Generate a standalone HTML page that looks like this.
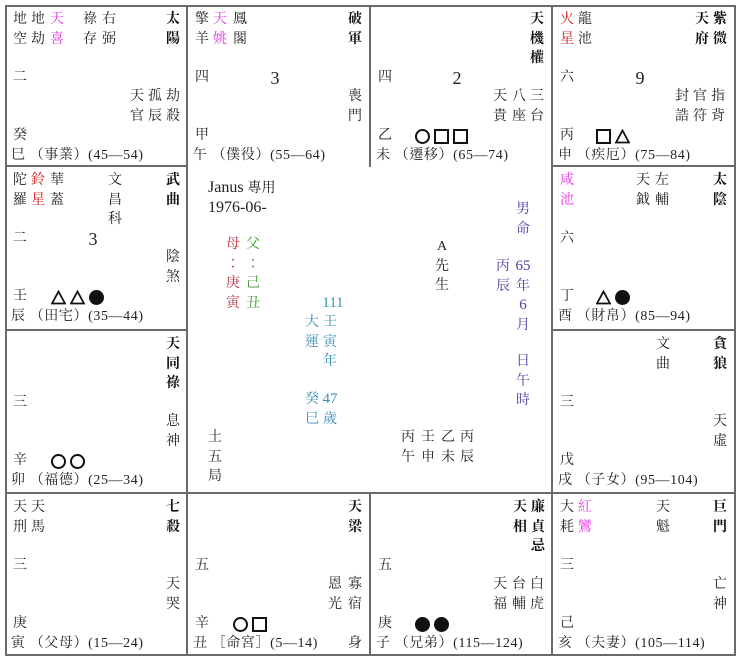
<!DOCTYPE html>
<html><head><meta charset="utf-8"><style>
body{margin:0;background:#fff;}
#w{position:relative;width:740px;height:661px;overflow:hidden;font-family:"Liberation Serif","Noto Serif CJK TC","Noto Serif CJK SC",serif;color:#222;}
.ln{position:absolute;background:#6a6a6a;}
.c{position:absolute;width:182px;height:163px;}
.v{position:absolute;width:20px;margin-left:-10px;text-align:center;font-size:14px;line-height:19.5px;}
.b{font-weight:bold;color:#111;}
.m{color:#e838e8;}
.r{color:#d42020;}
.n{position:absolute;font-size:18px;line-height:20px;width:20px;margin-left:-10px;text-align:center;}
.bl{position:absolute;left:6px;top:141px;font-size:14px;line-height:19px;white-space:nowrap;letter-spacing:0.6px;}
.sy{position:absolute;top:124px;height:15px;white-space:nowrap;font-size:0;}
.sy i{display:inline-block;width:15px;height:15px;margin-right:4px;box-sizing:border-box;vertical-align:top;}
.o{border:2px solid #111;border-radius:50%;}
.q{border:2px solid #111;}
.f{background:#111;border-radius:50%;}
.t{background:none;}
.tc{color:#3a8fb5;}
.pu{color:#4a40a8;}
.dr{color:#b83040;}
.gr{color:#3a9a2a;}
</style></head><body><div id="w">
<svg width="0" height="0" style="position:absolute"><defs><symbol id="tri" viewBox="0 0 15 15"><polygon points="7.5,1.5 14,13.5 1,13.5" fill="none" stroke="#111" stroke-width="1.8"/></symbol></defs></svg>
<div class="ln" style="left:5px;top:5px;width:731px;height:2px"></div>
<div class="ln" style="left:5px;top:165px;width:182px;height:2px"></div>
<div class="ln" style="left:552px;top:165px;width:184px;height:2px"></div>
<div class="ln" style="left:5px;top:329px;width:182px;height:2px"></div>
<div class="ln" style="left:552px;top:329px;width:184px;height:2px"></div>
<div class="ln" style="left:5px;top:492px;width:731px;height:2px"></div>
<div class="ln" style="left:5px;top:654px;width:731px;height:2px"></div>
<div class="ln" style="left:5px;top:5px;width:2px;height:651px"></div>
<div class="ln" style="left:734px;top:5px;width:2px;height:651px"></div>
<div class="ln" style="left:186px;top:5px;width:2px;height:651px"></div>
<div class="ln" style="left:551px;top:5px;width:2px;height:651px"></div>
<div class="ln" style="left:369px;top:5px;width:2px;height:162px"></div>
<div class="ln" style="left:369px;top:492px;width:2px;height:164px"></div>

<!-- 巳 -->
<div class="c" style="left:5px;top:5px">
<div class="v" style="left:15px;top:5px">地<br>空</div>
<div class="v" style="left:33px;top:5px">地<br>劫</div>
<div class="v m" style="left:52px;top:5px">天<br>喜</div>
<div class="v" style="left:85px;top:5px">祿<br>存</div>
<div class="v" style="left:104px;top:5px">右<br>弼</div>
<div class="v b" style="left:168px;top:5px">太<br>陽</div>
<div class="v" style="left:15px;top:63px">二</div>
<div class="v" style="left:132px;top:82px">天<br>官</div>
<div class="v" style="left:150px;top:82px">孤<br>辰</div>
<div class="v" style="left:168px;top:82px">劫<br>殺</div>
<div class="v" style="left:15px;top:121px">癸</div>
<div class="bl">巳 （事業）(45—54)</div>
</div>

<!-- 午 -->
<div class="c" style="left:187px;top:5px">
<div class="v" style="left:15px;top:5px">擎<br>羊</div>
<div class="v m" style="left:33px;top:5px">天<br>姚</div>
<div class="v" style="left:53px;top:5px">鳳<br>閣</div>
<div class="v b" style="left:168px;top:5px">破<br>軍</div>
<div class="v" style="left:15px;top:63px">四</div>
<div class="n" style="left:88px;top:63px">3</div>
<div class="v" style="left:168px;top:82px">喪<br>門</div>
<div class="v" style="left:15px;top:121px">甲</div>
<div class="bl">午 （僕役）(55—64)</div>
</div>

<!-- 未 -->
<div class="c" style="left:370px;top:5px">
<div class="v b" style="left:167px;top:5px">天<br>機<br>權</div>
<div class="v" style="left:15px;top:63px">四</div>
<div class="n" style="left:87px;top:63px">2</div>
<div class="v" style="left:130px;top:82px">天<br>貴</div>
<div class="v" style="left:149px;top:82px">八<br>座</div>
<div class="v" style="left:167px;top:82px">三<br>台</div>
<div class="v" style="left:15px;top:121px">乙</div>
<div class="sy" style="left:45px"><i class="o"></i><i class="q"></i><i class="q"></i></div>
<div class="bl">未 （遷移）(65—74)</div>
</div>

<!-- 申 -->
<div class="c" style="left:552px;top:5px">
<div class="v r" style="left:15px;top:5px">火<br>星</div>
<div class="v" style="left:33px;top:5px">龍<br>池</div>
<div class="v b" style="left:150px;top:5px">天<br>府</div>
<div class="v b" style="left:168px;top:5px">紫<br>微</div>
<div class="v" style="left:15px;top:63px">六</div>
<div class="n" style="left:88px;top:63px">9</div>
<div class="v" style="left:130px;top:82px">封<br>誥</div>
<div class="v" style="left:148px;top:82px">官<br>符</div>
<div class="v" style="left:166px;top:82px">指<br>背</div>
<div class="v" style="left:15px;top:121px">丙</div>
<div class="sy" style="left:44px"><i class="q"></i><i class="t"><svg width="15" height="15"><use href="#tri"/></svg></i></div>
<div class="bl">申 （疾厄）(75—84)</div>
</div>

<!-- 辰 -->
<div class="c" style="left:5px;top:166px">
<div class="v" style="left:15px;top:5px">陀<br>羅</div>
<div class="v r" style="left:33px;top:5px">鈴<br>星</div>
<div class="v" style="left:52px;top:5px">華<br>蓋</div>
<div class="v" style="left:110px;top:5px">文<br>昌<br>科</div>
<div class="v b" style="left:168px;top:5px">武<br>曲</div>
<div class="v" style="left:15px;top:63px">二</div>
<div class="n" style="left:88px;top:63px">3</div>
<div class="v" style="left:168px;top:82px">陰<br>煞</div>
<div class="v" style="left:15px;top:121px">壬</div>
<div class="sy" style="left:46px"><i class="t"><svg width="15" height="15"><use href="#tri"/></svg></i><i class="t"><svg width="15" height="15"><use href="#tri"/></svg></i><i class="f"></i></div>
<div class="bl">辰 （田宅）(35—44)</div>
</div>

<!-- 酉 -->
<div class="c" style="left:552px;top:166px">
<div class="v m" style="left:15px;top:5px">咸<br>池</div>
<div class="v" style="left:91px;top:5px">天<br>鉞</div>
<div class="v" style="left:110px;top:5px">左<br>輔</div>
<div class="v b" style="left:168px;top:5px">太<br>陰</div>
<div class="v" style="left:15px;top:63px">六</div>
<div class="v" style="left:15px;top:121px">丁</div>
<div class="sy" style="left:44px"><i class="t"><svg width="15" height="15"><use href="#tri"/></svg></i><i class="f"></i></div>
<div class="bl">酉 （財帛）(85—94)</div>
</div>

<!-- 卯 -->
<div class="c" style="left:5px;top:330px">
<div class="v b" style="left:168px;top:5px">天<br>同<br>祿</div>
<div class="v" style="left:15px;top:63px">三</div>
<div class="v" style="left:168px;top:82px">息<br>神</div>
<div class="v" style="left:15px;top:121px">辛</div>
<div class="sy" style="left:46px"><i class="o"></i><i class="o"></i></div>
<div class="bl">卯 （福德）(25—34)</div>
</div>

<!-- 戌 -->
<div class="c" style="left:552px;top:330px">
<div class="v" style="left:111px;top:5px">文<br>曲</div>
<div class="v b" style="left:168px;top:5px">貪<br>狼</div>
<div class="v" style="left:15px;top:63px">三</div>
<div class="v" style="left:168px;top:82px">天<br>虛</div>
<div class="v" style="left:15px;top:121px">戊</div>
<div class="bl">戌 （子女）(95—104)</div>
</div>

<!-- 寅 -->
<div class="c" style="left:5px;top:493px">
<div class="v" style="left:15px;top:5px">天<br>刑</div>
<div class="v" style="left:33px;top:5px">天<br>馬</div>
<div class="v b" style="left:168px;top:5px">七<br>殺</div>
<div class="v" style="left:15px;top:63px">三</div>
<div class="v" style="left:168px;top:82px">天<br>哭</div>
<div class="v" style="left:15px;top:121px">庚</div>
<div class="bl">寅 （父母）(15—24)</div>
</div>

<!-- 丑 -->
<div class="c" style="left:187px;top:493px">
<div class="v b" style="left:168px;top:5px">天<br>梁</div>
<div class="v" style="left:15px;top:63px">五</div>
<div class="v" style="left:148px;top:82px">恩<br>光</div>
<div class="v" style="left:168px;top:82px">寡<br>宿</div>
<div class="v" style="left:15px;top:121px">辛</div>
<div class="sy" style="left:46px"><i class="o"></i><i class="q"></i></div>
<div class="bl">丑 ［命宮］(5—14)</div>
<div class="v" style="left:168px;top:141px">身</div>
</div>

<!-- 子 -->
<div class="c" style="left:370px;top:493px">
<div class="v b" style="left:150px;top:5px">天<br>相</div>
<div class="v b" style="left:168px;top:5px">廉<br>貞<br>忌</div>
<div class="v" style="left:15px;top:63px">五</div>
<div class="v" style="left:130px;top:82px">天<br>福</div>
<div class="v" style="left:149px;top:82px">台<br>輔</div>
<div class="v" style="left:167px;top:82px">白<br>虎</div>
<div class="v" style="left:15px;top:121px">庚</div>
<div class="sy" style="left:45px"><i class="f"></i><i class="f"></i></div>
<div class="bl">子 （兄弟）(115—124)</div>
</div>

<!-- 亥 -->
<div class="c" style="left:552px;top:493px">
<div class="v" style="left:15px;top:5px">大<br>耗</div>
<div class="v m" style="left:33px;top:5px">紅<br>鸞</div>
<div class="v" style="left:111px;top:5px">天<br>魁</div>
<div class="v b" style="left:168px;top:5px">巨<br>門</div>
<div class="v" style="left:15px;top:63px">三</div>
<div class="v" style="left:168px;top:82px">亡<br>神</div>
<div class="v" style="left:15px;top:121px">己</div>
<div class="bl">亥 （夫妻）(105—114)</div>
</div>

<!-- center -->
<div style="position:absolute;left:208px;top:178px;font-size:16px;line-height:19px;">Janus <span style="font-size:14px">專用</span><br>1976-06-</div>
<div class="v dr" style="left:233px;top:235px">母<br>：<br>庚<br>寅</div>
<div class="v gr" style="left:253px;top:235px">父<br>：<br>己<br>丑</div>
<div class="v tc" style="left:333px;top:294px;width:30px;margin-left:-15px;font-size:15px">111</div>
<div class="v tc" style="left:312px;top:313px">大<br>運</div>
<div class="v tc" style="left:330px;top:313px">壬<br>寅<br>年</div>
<div class="v tc" style="left:312px;top:390px">癸<br>巳</div>
<div class="v tc" style="left:330px;top:390px;font-size:15px">47<br><span style="font-size:14px">歲</span></div>
<div class="v" style="left:442px;top:237px">A<br>先<br>生</div>
<div class="v pu" style="left:523px;top:200px">男<br>命</div>
<div class="v pu" style="left:503px;top:257px">丙<br>辰</div>
<div class="v pu" style="left:523px;top:257px;font-size:15px">65<br><span style="font-size:14px">年</span><br>6<br><span style="font-size:14px">月</span></div>
<div class="v pu" style="left:523px;top:352px">日<br>午<br>時</div>
<div class="v" style="left:215px;top:428px">土<br>五<br>局</div>
<div class="v" style="left:408px;top:428px">丙<br>午</div>
<div class="v" style="left:428px;top:428px">壬<br>申</div>
<div class="v" style="left:448px;top:428px">乙<br>未</div>
<div class="v" style="left:467px;top:428px">丙<br>辰</div>
</div></body></html>
